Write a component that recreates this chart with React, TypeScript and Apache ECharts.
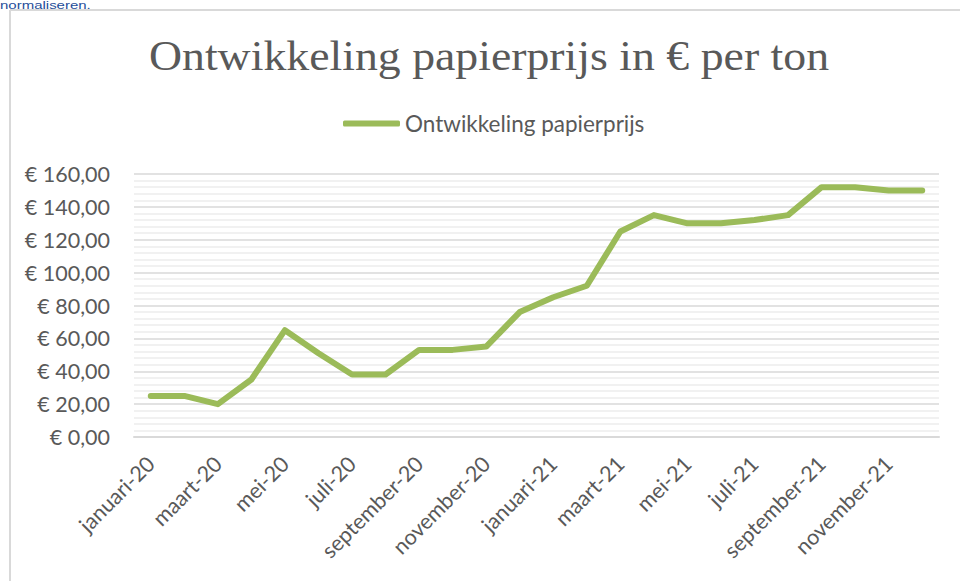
import React, { useEffect, useRef } from "react";
import * as echarts from "echarts";

const categories = [
  "januari-20", "februari-20", "maart-20", "april-20", "mei-20", "juni-20",
  "juli-20", "augustus-20", "september-20", "oktober-20", "november-20", "december-20",
  "januari-21", "februari-21", "maart-21", "april-21", "mei-21", "juni-21",
  "juli-21", "augustus-21", "september-21", "oktober-21", "november-21", "december-21",
];

const prices = [
  25, 25, 20, 35, 65, 51, 38, 38, 53, 53, 55, 76,
  85, 92, 125, 135, 130, 130, 132, 135, 152, 152, 150, 150,
];

const seriesName = "Ontwikkeling papierprijs";
const titleText = "Ontwikkeling papierprijs in € per ton";

export default function App() {
  const ref = useRef<HTMLDivElement>(null);
  useEffect(() => {
    if (!ref.current) return;
    const chart = echarts.init(ref.current, null, { renderer: "svg" });
    chart.setOption({
      animation: false,
      backgroundColor: "#ffffff",
      legend: {
        top: 107,
        left: 338,
        icon: "roundRect",
        itemWidth: 57,
        itemHeight: 6,
        textStyle: { fontFamily: "Lato", fontSize: 22.5, color: "#595959" },
        data: [seriesName],
      },
      graphic: [
        {
          type: "line",
          shape: { x1: 10, y1: 10, x2: 960, y2: 10 },
          style: { stroke: "#d9d9d9", lineWidth: 2 },
        },
        {
          type: "line",
          shape: { x1: 10, y1: 10, x2: 10, y2: 581 },
          style: { stroke: "#d9d9d9", lineWidth: 2 },
        },
        {
          type: "text",
          x: 0,
          y: 0,
          scaleX: 1.5,
          style: {
            text: "normaliseren.",
            fontFamily: "Liberation Sans",
            fontSize: 10,
            fill: "#1f4e9a",
            textVerticalAlign: "top",
          },
        },
        {
          type: "text",
          x: 489,
          y: 35,
          scaleX: 1.09,
          style: {
            text: titleText,
            x: 0,
            y: 0,
            textAlign: "center",
            textVerticalAlign: "top",
            fontFamily: "Liberation Serif",
            fontSize: 42,
            fill: "#595959",
          },
        },
      ],
      grid: { left: 134, right: 21, top: 174, bottom: 144 },
      xAxis: {
        type: "category",
        data: categories,
        boundaryGap: true,
        axisLine: { lineStyle: { color: "#d9d9d9", width: 2 } },
        axisTick: { interval: 1, length: 6, lineStyle: { color: "#d9d9d9", width: 2 } },
        axisLabel: {
          interval: 1,
          rotate: 45,
          margin: 23,
          fontFamily: "Lato",
          fontSize: 21.5,
          color: "#595959",
        },
        splitLine: { show: false },
      },
      yAxis: {
        type: "value",
        min: 0,
        max: 160,
        interval: 20,
        axisLine: { show: false },
        axisTick: { show: false },
        axisLabel: {
          margin: 24,
          fontFamily: "Lato",
          fontSize: 21.5,
          color: "#595959",
          formatter: (v: number) => "€ " + v.toFixed(2).replace(".", ","),
        },
        splitLine: { lineStyle: { color: "#d9d9d9", width: 1.5 } },
        minorTick: { show: false, splitNumber: 5 },
        minorSplitLine: { show: true, lineStyle: { color: "#ededed", width: 1.5 } },
      },
      series: [
        {
          name: seriesName,
          type: "line",
          data: prices,
          symbol: "none",
          lineStyle: { color: "#9bbb59", width: 6, cap: "round", join: "round" },
          itemStyle: { color: "#9bbb59" },
        },
      ],
    });
    return () => chart.dispose();
  }, []);
  return (
    <div
      ref={ref}
      style={{ position: "absolute", left: 0, top: 0, width: 960, height: 581 }}
    />
  );
}
